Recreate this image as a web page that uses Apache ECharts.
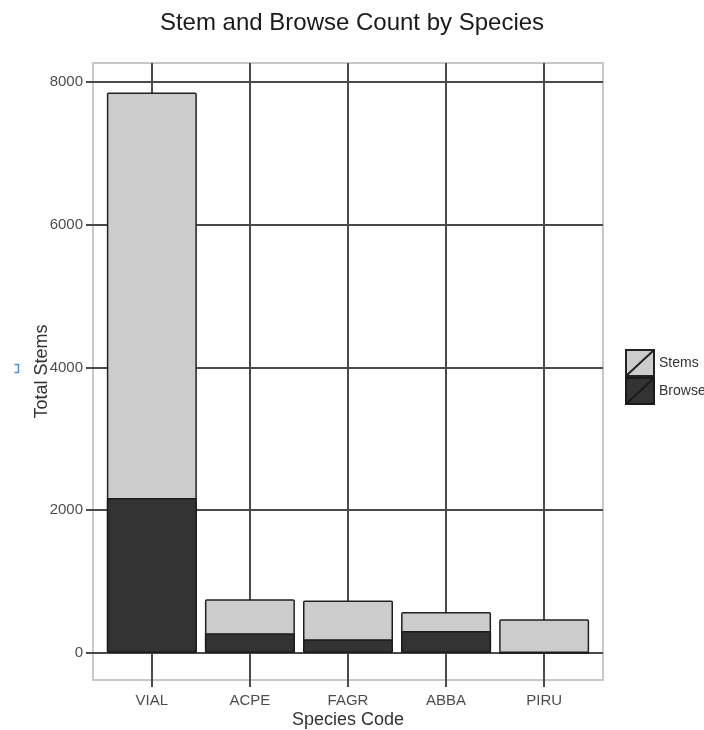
<!DOCTYPE html>
<html>
<head>
<meta charset="utf-8">
<script src="https://cdn.jsdelivr.net/npm/echarts@6/dist/echarts.min.js"></script>
<style>
html,body{margin:0;padding:0;background:#fff;}
#chart{width:704px;height:730px;}
</style>
</head>
<body>
<div id="chart"></div>
<script>
const categories = ['VIAL', 'ACPE', 'FAGR', 'ABBA', 'PIRU'];
const stemsTotal = [7850, 752, 733, 574, 472];
const browseCount = [2170, 276, 192, 308, 0];
const yTickValues = [0, 2000, 4000, 6000, 8000];
const xTickValues = [0, 1, 2, 3, 4];

const FONT = 'Liberation Sans, Arial, sans-serif';
const chart = echarts.init(document.getElementById('chart'), null, {renderer: 'canvas'});

const keyIcon = 'path://M0,0L28,0L28,26L0,26Z M0,26L28,0';
const gridLine = {color: '#4a4a4a', width: 2};

chart.setOption({
  backgroundColor: '#ffffff',
  animation: false,
  title: {
    text: 'Stem and Browse Count by Species',
    left: 'center',
    top: 6,
    textStyle: {fontFamily: FONT, fontSize: 24, fontWeight: 'normal', color: '#1a1a1a'}
  },
  legend: {
    orient: 'vertical',
    left: 625,
    top: 349,
    itemWidth: 28,
    itemHeight: 26,
    itemGap: 0,
    padding: 0,
    icon: keyIcon,
    textStyle: {fontFamily: FONT, fontSize: 14, color: '#333'},
    data: ['Stems', 'Browse']
  },
  grid: {
    left: 93, right: 101, top: 63, bottom: 50,
    outerBoundsMode: 'none',
    containLabel: false,
    show: true,
    borderColor: '#c8c8c8',
    borderWidth: 2,
    backgroundColor: '#ffffff'
  },
  xAxis: {
    type: 'value',
    min: -0.6,
    max: 4.6,
    position: 'bottom',
    axisLine: {show: false, onZero: false},
    axisTick: {show: true, length: 7, customValues: xTickValues, lineStyle: gridLine},
    axisLabel: {
      customValues: xTickValues,
      margin: 13,
      fontFamily: FONT, fontSize: 15, color: '#4d4d4d',
      formatter: v => categories[Math.round(v)] || ''
    },
    splitLine: {show: true, showMinLine: true, showMaxLine: true, lineStyle: gridLine},
    name: 'Species Code',
    nameLocation: 'middle',
    nameGap: 31,
    nameMoveOverlap: false,
    nameTextStyle: {fontFamily: FONT, fontSize: 18, color: '#333'}
  },
  yAxis: {
    type: 'value',
    min: -380,
    max: 8265,
    position: 'left',
    axisLine: {show: false, onZero: false},
    axisTick: {show: true, length: 7, customValues: yTickValues, lineStyle: gridLine},
    axisLabel: {
      customValues: yTickValues,
      margin: 10,
      fontFamily: FONT, fontSize: 15, color: '#4d4d4d',
      formatter: v => String(v)
    },
    splitLine: {show: true, showMinLine: true, showMaxLine: true, lineStyle: gridLine},
    name: 'Total Stems',
    nameLocation: 'middle',
    nameGap: 42,
    nameMoveOverlap: false,
    nameTextStyle: {fontFamily: FONT, fontSize: 18, color: '#333'}
  },
  series: [
    {
      name: 'Stems',
      type: 'bar',
      barWidth: 90,
      barGap: '-100%',
      data: categories.map((c, i) => [i, stemsTotal[i]]),
      itemStyle: {color: '#cccccc', borderColor: '#222', borderWidth: 1.5, borderRadius: 1}
    },
    {
      name: 'Browse',
      type: 'bar',
      barWidth: 90,
      barGap: '-100%',
      data: categories.map((c, i) => [i, browseCount[i]]),
      itemStyle: {color: '#333333', borderColor: '#1a1a1a', borderWidth: 1.5, borderRadius: 1}
    }
  ],
  graphic: [
    {
      type: 'polyline',
      left: 12, top: 362,
      shape: {points: [[0, 0], [4, 0], [4, 8], [0, 8]]},
      style: {stroke: '#4a90d9', lineWidth: 1.5, fill: null}
    }
  ]
});
</script>
</body>
</html>
